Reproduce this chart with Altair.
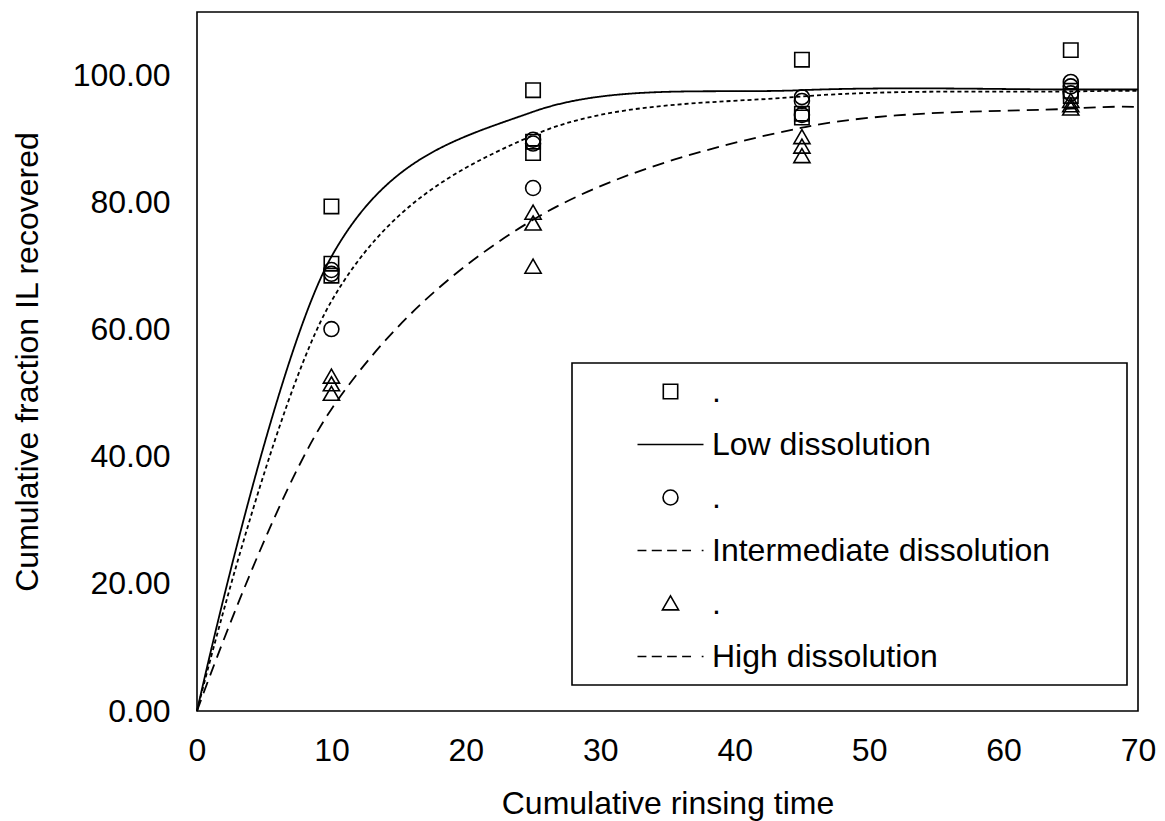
import altair as alt
import pandas as pd

obs_time = [10, 10, 10, 25, 25, 25, 45, 45, 45, 65, 65, 65]
low_obs = [79.4, 70.4, 68.5, 97.7, 89.6, 87.8, 102.5, 94.0, 93.4, 104.0, 97.6, 96.8]
int_obs = [69.4, 68.8, 60.1, 89.9, 89.3, 82.3, 96.6, 96.0, 93.8, 99.0, 98.3, 97.2]
high_obs = [52.6, 51.4, 49.9, 78.4, 76.7, 69.9, 90.3, 88.8, 87.3, 96.0, 95.3, 94.8]

# ---- fitted curves (smoothed line through these) ----
curve_time = [0, 10, 25, 45, 65, 70]
low_fit = [0, 71.5, 94.3, 97.7, 97.8, 97.8]
int_fit = [0, 64.5, 90.6, 96.7, 97.5, 97.6]
high_fit = [0, 47.5, 77.3, 91.8, 94.8, 95.0]

series_names = ["Low dissolution", "Intermediate dissolution", "High dissolution"]
point_keys = ["low_pts", "int_pts", "high_pts"]
legend_order = ["low_pts", "Low dissolution", "int_pts",
                "Intermediate dissolution", "high_pts", "High dissolution"]

x_ticks = [0, 10, 20, 30, 40, 50, 60, 70]
y_ticks = [0, 20, 40, 60, 80, 100]

# build tables
pts_rows = []
for key, vals in zip(point_keys, [low_obs, int_obs, high_obs]):
    for t, v in zip(obs_time, vals):
        pts_rows.append({"t": t, "v": v, "key": key})
pts = pd.DataFrame(pts_rows)

fit_rows = []
for name, vals in zip(series_names, [low_fit, int_fit, high_fit]):
    for t, v in zip(curve_time, vals):
        fit_rows.append({"t": t, "v": v, "series": name})
fit = pd.DataFrame(fit_rows)

# symbol shapes (unit box scaled by sqrt(size)/2)
SQUARE = "M-0.472,-0.472H0.472V0.472H-0.472Z"
CIRCLE = "M0.49,0A0.49,0.49 0 1 1 -0.49,0A0.49,0.49 0 1 1 0.49,0Z"
TRIANGLE = "M0,-0.5L0.53,0.42L-0.53,0.42Z"
SOLID = "M-2.164,0H2.164"
DASHED = "M-2.164,0H-1.58M-1.229,0H-0.571M-0.221,0H0.411M0.762,0H1.346M2.047,0H2.164"
shape_range = [SQUARE, SOLID, CIRCLE, DASHED, TRIANGLE, DASHED]

SYM = 930
FONT = "Liberation Sans"

x_enc = alt.X("t:Q", scale=alt.Scale(domain=[0, 70], nice=False, zero=True),
              axis=alt.Axis(values=x_ticks, title="Cumulative rinsing time",
                            labelPadding=24, titlePadding=22, labelFlush=False))
y_enc = alt.Y("v:Q", scale=alt.Scale(domain=[0, 110], nice=False),
              axis=alt.Axis(values=y_ticks, format=".2f",
                            title="Cumulative fraction IL recovered",
                            labelPadding=27, titlePadding=28))

lines = alt.Chart(fit).mark_line(color="black", strokeWidth=1.8,
                                 interpolate="cardinal").encode(
    x=x_enc,
    y=y_enc,
    detail="series:N",
    strokeDash=alt.StrokeDash("series:N",
                              scale=alt.Scale(domain=series_names,
                                              range=[[1, 0], [4, 3], [12, 7]]),
                              legend=None),
)

points = alt.Chart(pts).mark_point(filled=False, color="black", strokeWidth=1.6,
                                   size=SYM, opacity=1).encode(
    x=x_enc,
    y=y_enc,
    shape=alt.Shape("key:N",
                    scale=alt.Scale(domain=legend_order, range=shape_range),
                    legend=alt.Legend(
                        title=".", titleOrient="right", titleColor="transparent",
                        titleFontSize=2, titlePadding=64,
                        orient="none", legendX=375, legendY=351,
                        direction="vertical", symbolSize=SYM,
                        symbolStrokeWidth=1.6, symbolStrokeColor="black",
                        symbolFillColor="transparent",
                        labelFont=FONT, labelFontSize=32, labelColor="black",
                        labelLimit=900, labelOffset=25, symbolOffset=70,
                        rowPadding=20, padding=12,
                        strokeColor="black", fillColor="white",
                        labelExpr="indexof(datum.value, '_pts') >= 0 ? '.' : datum.value",
                    )),
)

chart = alt.layer(lines, points).properties(
    width=941, height=699,
    background="white",
    autosize=alt.AutoSizeParams(type="none"),
    padding={"left": 197, "top": 12, "right": 27, "bottom": 110},
).configure_view(
    stroke="black", strokeWidth=1.6
).configure_axis(
    domain=False, ticks=False, grid=False,
    labelFont=FONT, labelFontSize=32, labelColor="black",
    titleFont=FONT, titleFontSize=32, titleFontWeight="normal", titleColor="black",
).configure_legend(
    strokeWidth=1.6
)

chart.save("out.html", embed_options={"renderer": "svg", "actions": False})
